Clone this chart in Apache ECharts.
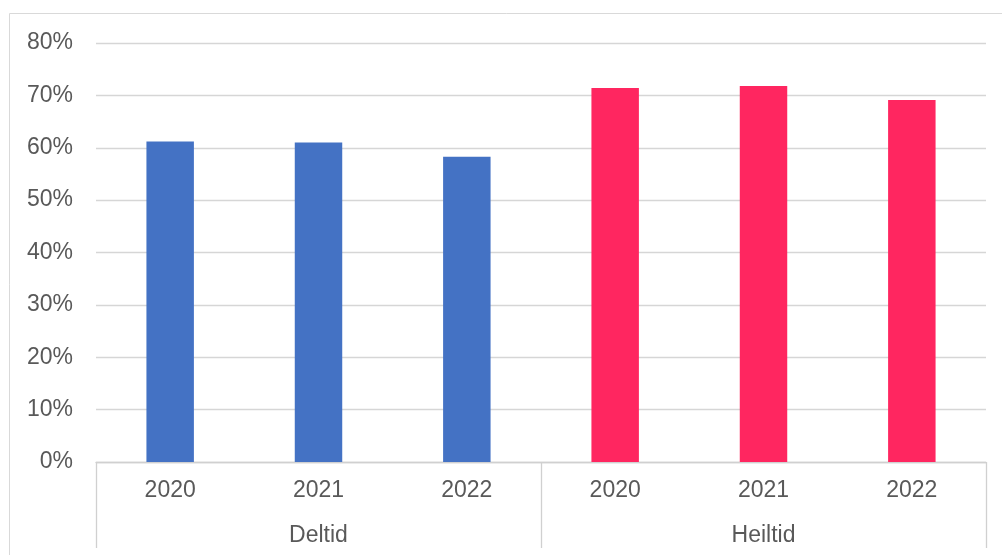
<!DOCTYPE html>
<html>
<head>
<meta charset="utf-8">
<script src="https://cdn.jsdelivr.net/npm/echarts@6/dist/echarts.min.js"></script>
<style>html,body{margin:0;padding:0;background:#fff}#c{width:1002px;height:555px}</style>
</head>
<body>
<div id="c"></div>
<script>
const groups = ['Deltid', 'Heiltid'];
const years = ['2020', '2021', '2022'];
const deltidValues = [0.612, 0.610, 0.583];
const heiltidValues = [0.714, 0.718, 0.691];
const groupColors = ['#4472C4', '#FF2660'];
const yTicks = [0, 0.1, 0.2, 0.3, 0.4, 0.5, 0.6, 0.7, 0.8];

const categories = [];
const barData = [];
[deltidValues, heiltidValues].forEach((vals, gi) => {
  vals.forEach((v, i) => {
    categories.push(groups[gi] + ' ' + years[i]);
    barData.push({ value: v, itemStyle: { color: groupColors[gi] } });
  });
});

const font = 'Liberation Sans, Arial, sans-serif';
const chart = echarts.init(document.getElementById('c'));
chart.setOption({
  animation: false,
  graphic: [{
    type: 'rect',
    shape: { x: 9.5, y: 13.5, width: 1010, height: 600 },
    style: { fill: 'none', stroke: '#d9d9d9', lineWidth: 1 },
    silent: true
  }],
  grid: { left: 96, right: 16, top: 43, bottom: 93 },
  xAxis: [
    {
      type: 'category',
      data: categories,
      position: 'bottom',
      axisLine: { show: true, lineStyle: { color: '#d0d0d0', width: 1.3 } },
      axisTick: { show: false },
      axisLabel: {
        formatter: (v) => v.split(' ')[1],
        color: '#595959', fontSize: 23, fontFamily: font, margin: 17
      }
    },
    {
      type: 'category',
      data: groups,
      position: 'bottom',
      axisLine: { show: false },
      axisTick: { show: true, length: 86, lineStyle: { color: '#d0d0d0', width: 1.3 } },
      axisLabel: { color: '#595959', fontSize: 23, fontFamily: font, margin: 62 }
    }
  ],
  yAxis: {
    type: 'value',
    min: yTicks[0],
    max: yTicks[yTicks.length - 1],
    interval: 0.1,
    axisLine: { show: false },
    axisTick: { show: false },
    splitLine: { lineStyle: { color: '#d6d6d6', width: 1.3 } },
    axisLabel: {
      formatter: (v) => Math.round(v * 100) + '%',
      color: '#595959', fontSize: 23, fontFamily: font, margin: 23
    }
  },
  series: [{
    type: 'bar',
    xAxisIndex: 0,
    data: barData,
    barWidth: '32%'
  }]
});
</script>
</body>
</html>
